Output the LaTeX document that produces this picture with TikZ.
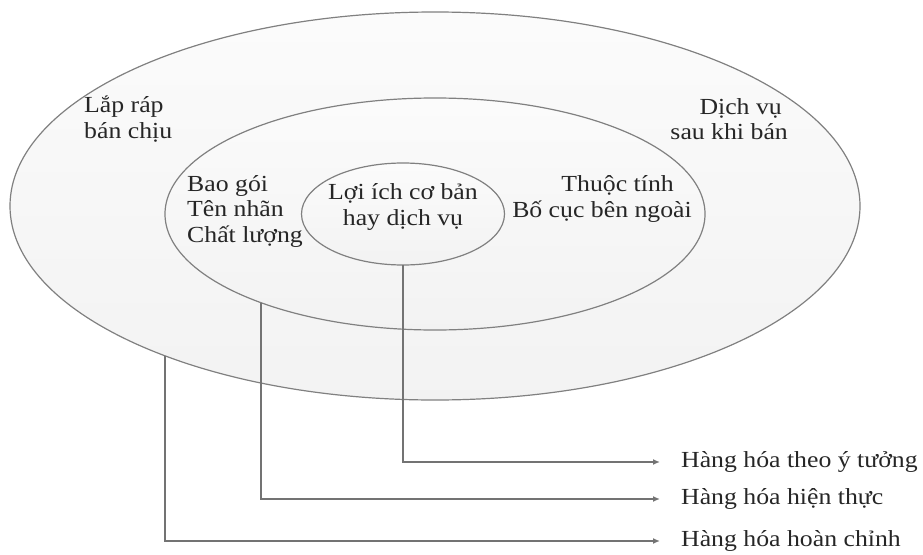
\documentclass[tikz,border=0pt]{standalone}
\usepackage{fontspec}
\setmainfont[FakeStretch=1.12]{Liberation Serif}
\usetikzlibrary{shapes.geometric,arrows.meta}
\tikzset{
	ring/.style={ellipse,draw=black!50,line width=1.2pt,top color=gray!3,bottom color=gray!10,inner sep=0pt,outer sep=0pt},
	lbl/.style={font=\fontsize{23}{25.5}\selectfont,inner sep=0pt,text=black!85},
	link/.style={draw=black!55,line width=2pt,-{Latex[length=7pt,width=6pt]}}
}
\begin{document}
\begin{tikzpicture}[x=1pt,y=-1pt]
		\useasboundingbox (0,0) rectangle (923,554);
		\node[ring,minimum width=850,minimum height=388] (outer) at (435,206) {};
		\node[ring,minimum width=540,minimum height=232] (middle) at (435,214) {};
		\node[ring,minimum width=203,minimum height=102] (inner) at (403,214) {};
		\node[lbl,align=left,anchor=west] (extra) at (84,119) {Lắp ráp\\bán chịu};
		\node[lbl,align=right,anchor=east] (service) at (788,119) {Dịch vụ\hspace*{6pt}\\sau khi bán};
		\node[lbl,align=left,anchor=west] (pack) at (187,211) {Bao gói\\Tên nhãn\\Chất lượng};
		\node[lbl,align=right,anchor=east] (feature) at (692,199) {Thuộc tính\hspace*{18pt}\\Bố cục bên ngoài};
		\node[lbl,align=center] (core) at (403,207) {Lợi ích cơ bản\\hay dịch vụ};
		\node[lbl,anchor=west] (idea) at (681,462) {Hàng hóa theo ý tưởng};
		\node[lbl,anchor=west] (real) at (681,499) {Hàng hóa hiện thực};
		\node[lbl,anchor=west] (full) at (681,541) {Hàng hóa hoàn chỉnh};
		\coordinate (ideaend) at (660,462);
		\coordinate (realend) at (660,499);
		\coordinate (fullend) at (660,541);
		\draw[link] (inner.south) |- (ideaend);
		\draw[link] (middle.207.2) |- (realend);
		\draw[link] (outer.209.2) |- (fullend);
\end{tikzpicture}
\end{document}
